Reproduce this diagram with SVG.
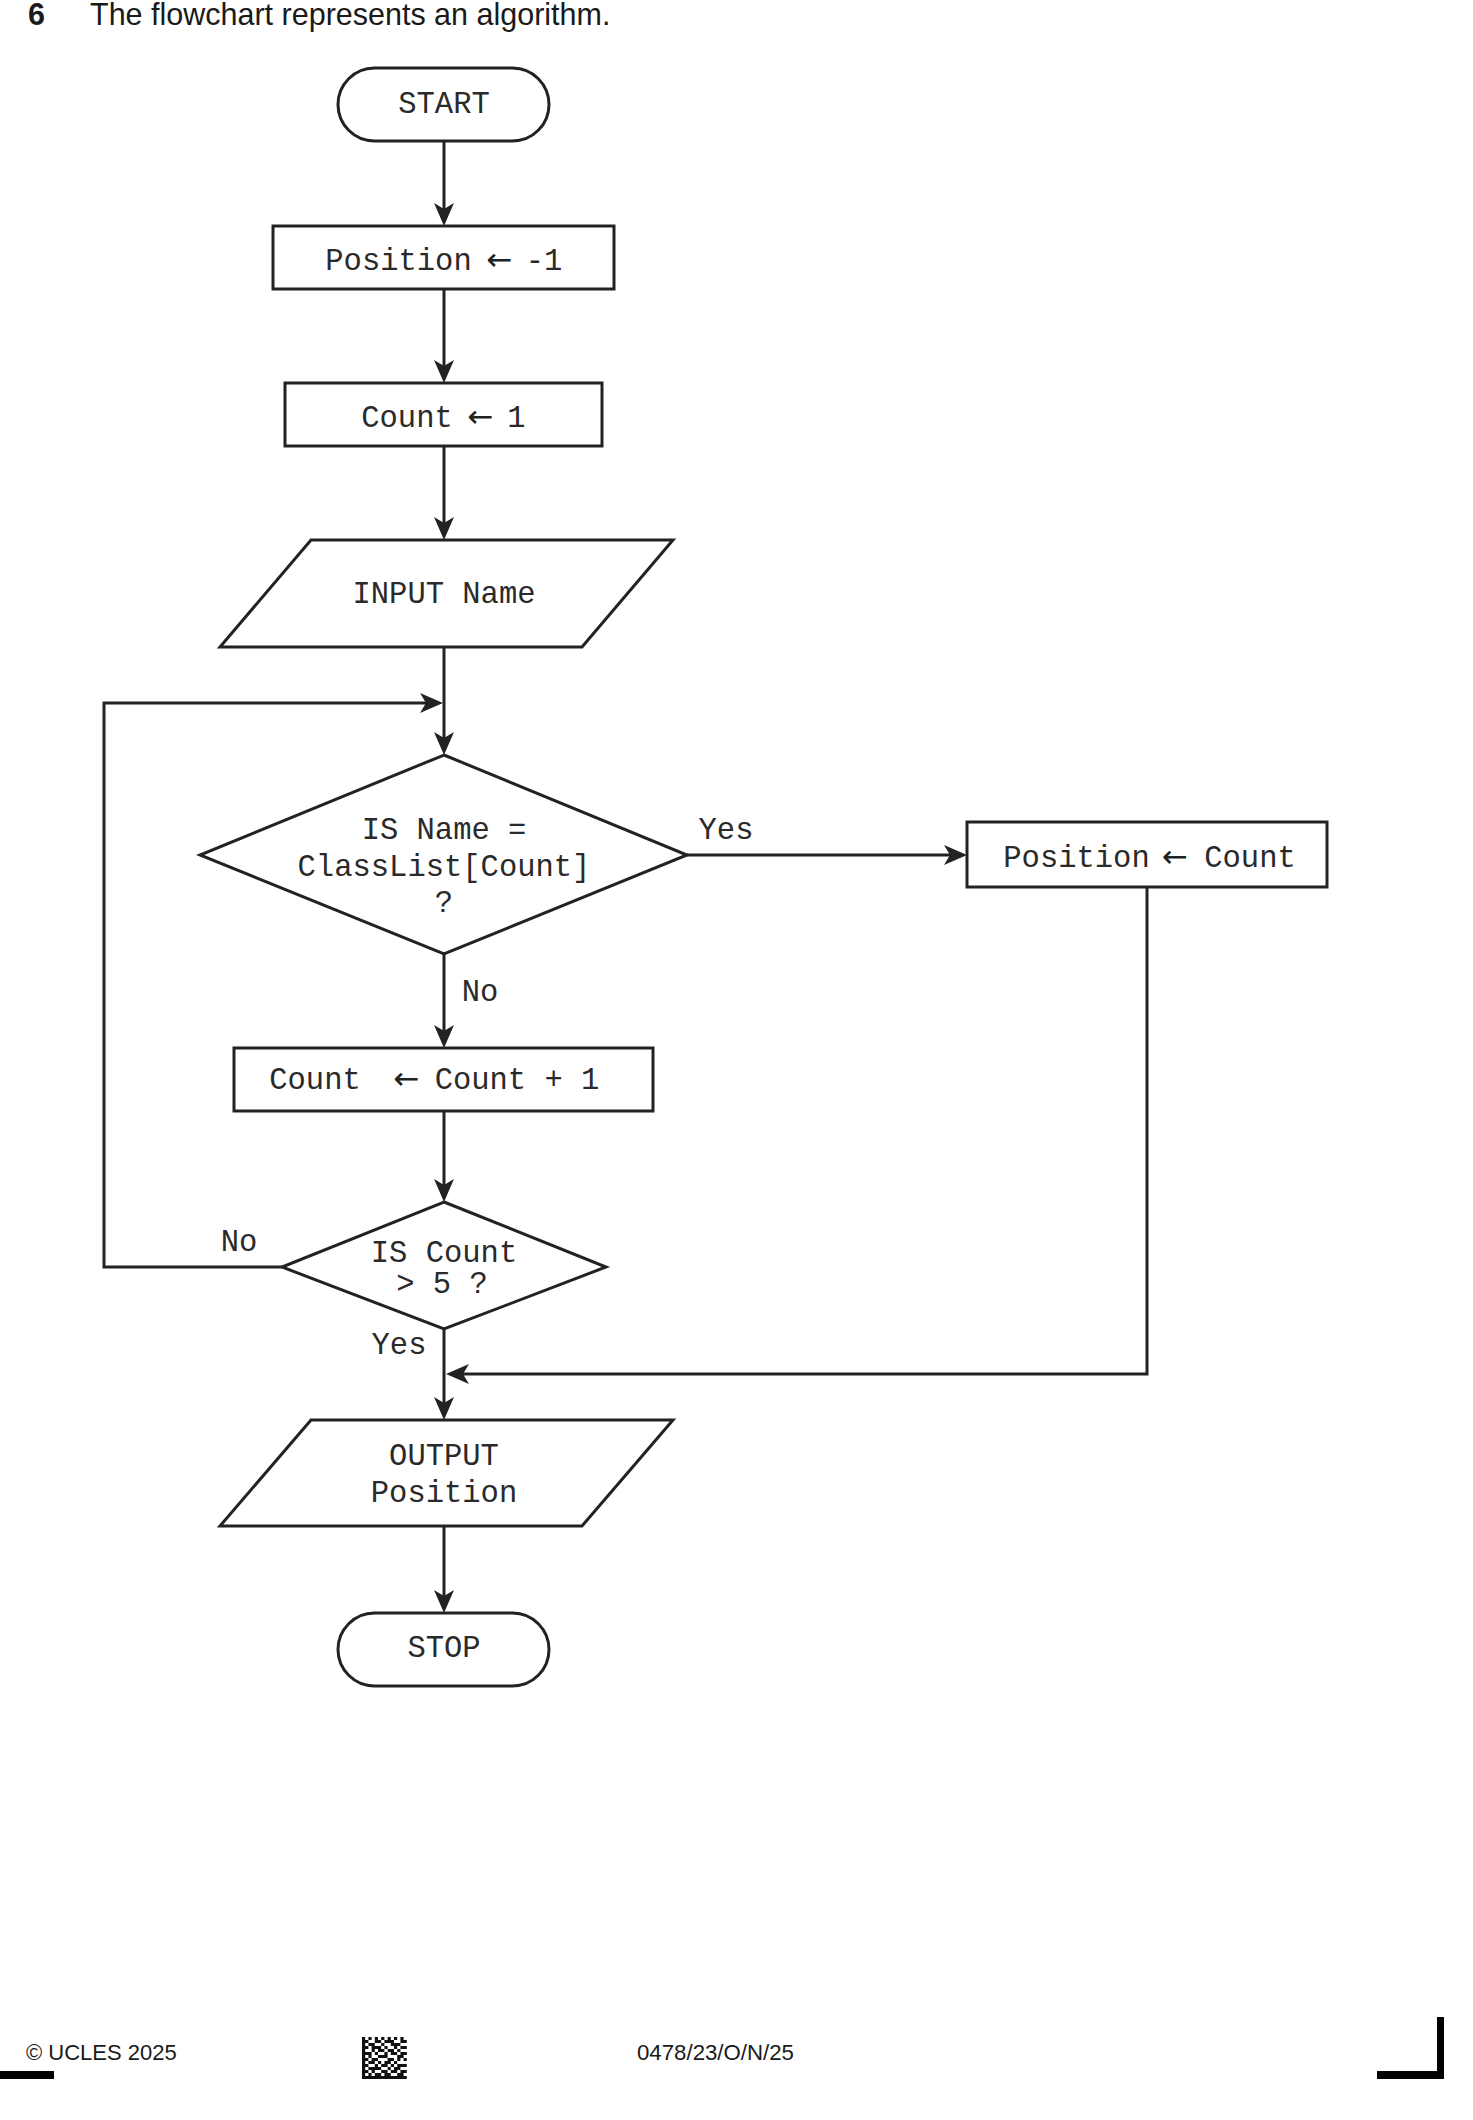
<svg xmlns="http://www.w3.org/2000/svg" width="1473" height="2120" viewBox="0 0 1473 2120">
<style>
  .shape { fill: #ffffff; stroke: #222222; stroke-width: 3; }
  .conn { fill: none; stroke: #222222; stroke-width: 3; }
  .t { font-family: "Liberation Mono", "Courier New", monospace; font-size: 30.5px; fill: #2a2a2a; text-anchor: middle; }
  .arr { font-family: "DejaVu Sans", "Liberation Sans", sans-serif; font-size: 31px; fill: #222222; text-anchor: middle; }
  .lbl { font-family: "Liberation Mono", "Courier New", monospace; font-size: 30.5px; fill: #2a2a2a; text-anchor: middle; }
  .head { font-family: "Liberation Sans", Arial, sans-serif; font-size: 30.5px; fill: #1a1a1a; }
  .foot { font-family: "Liberation Sans", Arial, sans-serif; font-size: 22px; fill: #1a1a1a; }
</style>
<defs>
  <marker id="ah" viewBox="-24 -11 25 22" markerWidth="25" markerHeight="22" refX="-10" refY="0" orient="auto" markerUnits="userSpaceOnUse">
    <path d="M0,0 L-23,-10 L-17,0 L-23,10 Z" fill="#222222"/>
  </marker>
</defs>
<rect width="1473" height="2120" fill="#ffffff"/>

<g id="heading">
  <text class="head" x="28" y="25" font-weight="bold">6</text>
  <text class="head" x="90" y="25">The flowchart represents an algorithm.</text>
</g>

<g id="connectors">
  <path class="conn" d="M444,141 V216" marker-end="url(#ah)"/>
  <path class="conn" d="M444,289 V373" marker-end="url(#ah)"/>
  <path class="conn" d="M444,446 V530" marker-end="url(#ah)"/>
  <path class="conn" d="M444,647 V745" marker-end="url(#ah)"/>
  <path class="conn" d="M282,1267 H104 V703 H433" marker-end="url(#ah)"/>
  <path class="conn" d="M687,855 H957" marker-end="url(#ah)"/>
  <path class="conn" d="M444,954 V1038" marker-end="url(#ah)"/>
  <path class="conn" d="M444,1111 V1192" marker-end="url(#ah)"/>
  <path class="conn" d="M444,1329 V1410" marker-end="url(#ah)"/>
  <path class="conn" d="M1147,887 V1374 H456" marker-end="url(#ah)"/>
  <path class="conn" d="M444,1526 V1603" marker-end="url(#ah)"/>
  <text class="lbl" x="726" y="839">Yes</text>
  <text class="lbl" x="480" y="1001">No</text>
  <text class="lbl" x="239" y="1251">No</text>
  <text class="lbl" x="399" y="1354">Yes</text>
</g>

<g id="start">
  <rect class="shape" x="338" y="68" width="211" height="73" rx="36.5" ry="36.5"/>
  <text class="t" x="444" y="113">START</text>
</g>

<g id="set-position">
  <rect class="shape" x="273" y="226" width="341" height="63"/>
  <text class="t" x="398.5" y="270">Position</text>
  <text class="arr" x="499.5" y="270">←</text>
  <text class="t" x="544" y="270">-1</text>
</g>

<g id="set-count">
  <rect class="shape" x="285" y="383" width="317" height="63"/>
  <text class="t" x="407" y="427">Count</text>
  <text class="arr" x="480.5" y="427">←</text>
  <text class="t" x="516.5" y="427">1</text>
</g>

<g id="input-name">
  <polygon class="shape" points="311,540 673,540 582,647 220,647"/>
  <text class="t" x="444" y="603">INPUT Name</text>
</g>

<g id="decision-name">
  <polygon class="shape" points="444,755 687,855 444,954 200,855"/>
  <text class="t" x="444" y="839">IS Name =</text>
  <text class="t" x="444" y="876">ClassList[Count]</text>
  <text class="t" x="444" y="912">?</text>
</g>

<g id="position-count">
  <rect class="shape" x="967" y="822" width="360" height="65"/>
  <text class="t" x="1076.5" y="867">Position</text>
  <text class="arr" x="1175" y="867">←</text>
  <text class="t" x="1250" y="867">Count</text>
</g>

<g id="increment">
  <rect class="shape" x="234" y="1048" width="419" height="63"/>
  <text class="t" x="315" y="1089">Count</text>
  <text class="arr" x="406.5" y="1089">←</text>
  <text class="t" x="517" y="1089">Count + 1</text>
</g>

<g id="decision-count">
  <polygon class="shape" points="444,1202 606,1267 444,1329 282,1267"/>
  <text class="t" x="444" y="1262">IS Count</text>
  <text class="t" x="442" y="1293">&gt; 5 ?</text>
</g>

<g id="output">
  <polygon class="shape" points="311,1420 673,1420 582,1526 220,1526"/>
  <text class="t" x="444" y="1465">OUTPUT</text>
  <text class="t" x="444" y="1502">Position</text>
</g>

<g id="stop">
  <rect class="shape" x="338" y="1613" width="211" height="73" rx="36.5" ry="36.5"/>
  <text class="t" x="444" y="1657">STOP</text>
</g>

<g id="footer">
  <text class="foot" x="26" y="2060">© UCLES 2025</text>
  <text class="foot" x="637" y="2060" textLength="157" lengthAdjust="spacingAndGlyphs">0478/23/O/N/25</text>
  <g transform="translate(362,2037) scale(3.2,3)" fill="#111111">
    <path d="M0 0h1v1h-1z M2 0h1v1h-1z M4 0h1v1h-1z M6 0h1v1h-1z M8 0h1v1h-1z M10 0h1v1h-1z M12 0h1v1h-1z
      M0 1h2v1h-2z M4 1h2v1h-2z M7 1h3v1h-3z M12 1h2v1h-2z
      M0 2h1v1h-1z M2 2h2v1h-2z M6 2h1v1h-1z M9 2h3v1h-3z
      M0 3h2v1h-2z M3 3h3v1h-3z M7 3h1v1h-1z M10 3h1v1h-1z M12 3h2v1h-2z
      M0 4h1v1h-1z M3 4h1v1h-1z M5 4h2v1h-2z M8 4h2v1h-2z M11 4h1v1h-1z
      M0 5h3v1h-3z M4 5h1v1h-1z M7 5h1v1h-1z M9 5h2v1h-2z M12 5h2v1h-2z
      M0 6h1v1h-1z M2 6h1v1h-1z M5 6h3v1h-3z M11 6h2v1h-2z
      M0 7h2v1h-2z M3 7h2v1h-2z M8 7h2v1h-2z M11 7h1v1h-1z M13 7h1v1h-1z
      M0 8h1v1h-1z M2 8h2v1h-2z M5 8h1v1h-1z M7 8h2v1h-2z M10 8h1v1h-1z
      M0 9h2v1h-2z M4 9h1v1h-1z M6 9h2v1h-2z M9 9h1v1h-1z M11 9h3v1h-3z
      M0 10h1v1h-1z M2 10h4v1h-4z M8 10h1v1h-1z M10 10h2v1h-2z
      M0 11h2v1h-2z M3 11h1v1h-1z M6 11h2v1h-2z M9 11h2v1h-2z M12 11h2v1h-2z
      M0 12h1v1h-1z M2 12h1v1h-1z M4 12h2v1h-2z M7 12h2v1h-2z M11 12h2v1h-2z
      M0 13h14v1h-14z"/>
  </g>
  <rect x="0" y="2071" width="54" height="8" fill="#000000"/>
  <rect x="1377" y="2071" width="67" height="8" fill="#000000"/>
  <rect x="1437" y="2017" width="7" height="62" fill="#000000"/>
</g>
</svg>
